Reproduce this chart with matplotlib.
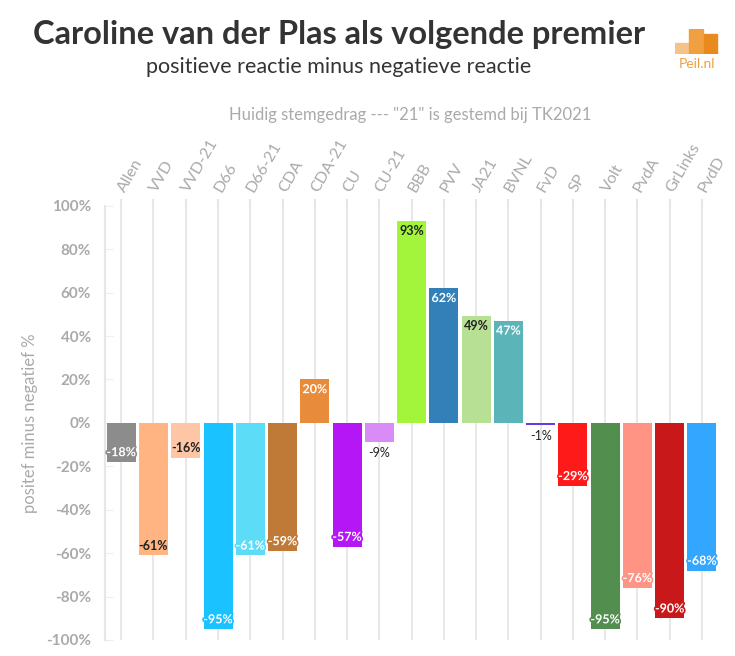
import matplotlib.pyplot as plt
import matplotlib.patheffects as pe
import matplotlib.transforms as mtransforms
from matplotlib.patches import Rectangle

# party labels, net reaction (%) and bar colours
parties = ["Allen", "VVD", "VVD-21", "D66", "D66-21", "CDA", "CDA-21", "CU", "CU-21",
           "BBB", "PVV", "JA21", "BVNL", "FvD", "SP", "Volt", "PvdA", "GrLinks", "PvdD"]
values = [-18, -61, -16, -95, -61, -59, 20, -57, -9, 93, 62, 49, 47, -1, -29, -95, -76, -90, -68]
colors = ["#8c8c8c", "#ffb482", "#ffc6a5", "#1ac2ff", "#5ddcf7", "#c07a37", "#e88b3a",
          "#b516f5", "#d98cf5", "#a3f53c", "#3380b8", "#b8e094", "#5bb5b8", "#6a3ae0",
          "#ff1a1a", "#528f4f", "#ff9485", "#c8181a", "#33a6ff"]
white_label = [True, False, False, True, True, True, True, True, False,
               False, True, False, True, False, True, True, True, True, True]
yticks = [-100, -80, -60, -40, -20, 0, 20, 40, 60, 80, 100]

plt.rcParams['font.family'] = ['Lato', 'DejaVu Sans']
grey = "#aaaaaa"

fig = plt.figure(figsize=(7.35, 6.56), dpi=100)
ax = fig.add_axes([0.143, 0.0244, 0.834, 0.662])

x = list(range(len(parties)))
ax.bar(x, values, width=0.9, color=colors, zorder=3)

for i, v in enumerate(values):
    sign = 1 if v >= 0 else -1
    if abs(v) >= 15:
        ypos = v - sign * 4.5
    else:
        ypos = v + sign * 4.8
    if v == -1:
        ypos = -6
    if white_label[i]:
        ax.text(i, ypos, f"{v}%", ha='center', va='center', fontsize=9, fontweight='bold',
                color='white', zorder=5,
                path_effects=[pe.withStroke(linewidth=2.5, foreground=colors[i])])
    else:
        bold = abs(v) >= 15
        ax.text(i, ypos, f"{v}%", ha='center', va='center', fontsize=9,
                fontweight='bold' if bold else 'normal', color='#222222', zorder=5)

ax.set_xlim(-0.5, len(parties) - 0.5)
ax.set_ylim(-100, 100)
ax.set_yticks(yticks)
ax.set_yticklabels([f"{t}%" for t in yticks], color=grey, fontsize=11, fontweight='bold')
ax.tick_params(axis='y', length=6, color='#eeeeee', direction='in', pad=10)

# category labels above the plot, rotated
ax.xaxis.tick_top()
ax.set_xticks(x)
ax.set_xticklabels([])
ax.tick_params(axis='x', length=5, color='#e6e6e6', width=1.5)
shift = mtransforms.ScaledTranslation(6 / 100, 11 / 100, fig.dpi_scale_trans)
for i, name in enumerate(parties):
    ax.text(i, 1, name, transform=ax.get_xaxis_transform() + shift, rotation=60,
            ha='left', va='bottom', rotation_mode='anchor', color=grey, fontsize=11.5)

ax.grid(axis='x', color='#e8e8e8', linewidth=1.5, zorder=0)
for s in ['top', 'right', 'bottom']:
    ax.spines[s].set_visible(False)
ax.spines['left'].set_color('#e6e6e6')
ax.spines['left'].set_linewidth(1.5)
ax.set_ylabel("positef minus negatief %", color=grey, fontsize=12, labelpad=6)

fig.text(0.461, 0.948, "Caroline van der Plas als volgende premier", ha='center', va='center',
         fontsize=23.5, fontweight='bold', color='#333333')
fig.text(0.461, 0.898, "positieve reactie minus negatieve reactie", ha='center', va='center',
         fontsize=15.5, color='#333333')
fig.text(0.558, 0.825, 'Huidig stemgedrag --- "21" is gestemd bij TK2021', ha='center', va='center',
         fontsize=12, color=grey)

# Peil.nl logo
logo = fig.add_axes([0.918, 0.918, 0.06, 0.038])
logo.set_xlim(0, 3)
logo.set_ylim(0, 1)
logo.axis('off')
logo.add_patch(Rectangle((0.0, 0), 0.9, 0.45, color="#f5c28a"))
logo.add_patch(Rectangle((1.0, 0), 0.9, 1.0, color="#f0a040"))
logo.add_patch(Rectangle((2.0, 0), 0.9, 0.78, color="#e88a1e"))
fig.text(0.948, 0.912, "Peil.nl", ha='center', va='top', fontsize=10, color="#f0a040")

fig.savefig("out.png", dpi=100)
